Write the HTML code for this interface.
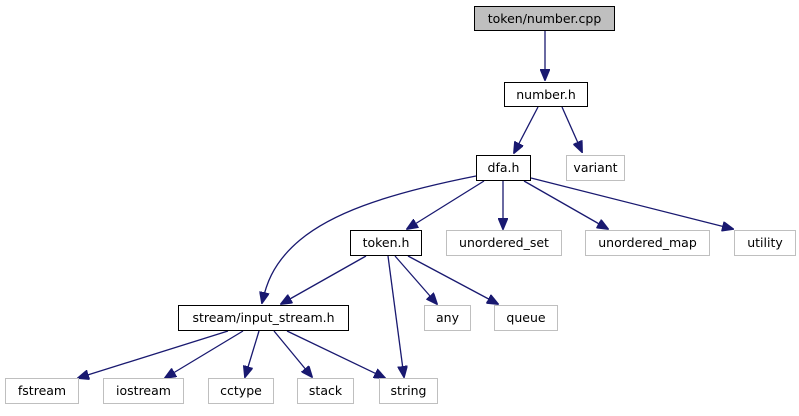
<!DOCTYPE html>
<html><head><style>
body{margin:0;background:#fff;width:799px;height:411px;overflow:hidden}
text{font-family:"DejaVu Sans","Liberation Sans",sans-serif;font-size:12.5px;fill:#000}
</style></head><body>
<svg width="799" height="411" viewBox="0 0 799 411" xmlns="http://www.w3.org/2000/svg">
<defs><marker id="a" markerWidth="12" markerHeight="10" refX="11" refY="5" orient="auto" markerUnits="userSpaceOnUse"><polygon points="0,0 12,5 0,10" fill="#191970" stroke="#191970"/></marker></defs>
<g fill="none" stroke="#191970" stroke-width="1.3" marker-end="url(#a)">
<line x1="545" y1="31" x2="545" y2="80"/>
<line x1="538" y1="107" x2="514" y2="153"/>
<line x1="562" y1="107" x2="582" y2="152"/>
<path d="M476,176 C380,195 330,215 300,240 C270,265 265,290 262,303"/>
<line x1="484" y1="181" x2="407" y2="229"/>
<line x1="503" y1="181" x2="503" y2="229"/>
<line x1="524" y1="181" x2="608" y2="229"/>
<line x1="531" y1="178" x2="733" y2="229"/>
<line x1="366" y1="256" x2="281" y2="304"/>
<line x1="388" y1="256" x2="404" y2="377"/>
<line x1="395" y1="256" x2="437" y2="304"/>
<line x1="408" y1="256" x2="498" y2="304"/>
<line x1="228" y1="331" x2="78" y2="378"/>
<line x1="243" y1="331" x2="165" y2="378"/>
<line x1="259" y1="331" x2="245" y2="377"/>
<line x1="274" y1="331" x2="312" y2="377"/>
<line x1="287" y1="331" x2="385" y2="378"/>
</g>
<g stroke-width="1">
<rect x="474.5" y="6.5" width="140" height="24" fill="#bfbfbf" stroke="#000"/>
<rect x="504.5" y="82.5" width="83" height="24" fill="#fff" stroke="#000"/>
<rect x="476.5" y="155.5" width="54" height="25" fill="#fff" stroke="#000"/>
<rect x="566.5" y="155.5" width="58" height="25" fill="#fff" stroke="#bfbfbf"/>
<rect x="350.5" y="230.5" width="71" height="25" fill="#fff" stroke="#000"/>
<rect x="446.5" y="230.5" width="115" height="25" fill="#fff" stroke="#bfbfbf"/>
<rect x="585.5" y="230.5" width="124" height="25" fill="#fff" stroke="#bfbfbf"/>
<rect x="734.5" y="230.5" width="61" height="25" fill="#fff" stroke="#bfbfbf"/>
<rect x="178.5" y="305.5" width="170" height="25" fill="#fff" stroke="#000"/>
<rect x="424.5" y="305.5" width="46" height="25" fill="#fff" stroke="#bfbfbf"/>
<rect x="494.5" y="305.5" width="63" height="25" fill="#fff" stroke="#bfbfbf"/>
<rect x="5.5" y="378.5" width="73" height="25" fill="#fff" stroke="#bfbfbf"/>
<rect x="103.5" y="378.5" width="80" height="25" fill="#fff" stroke="#bfbfbf"/>
<rect x="208.5" y="378.5" width="65" height="25" fill="#fff" stroke="#bfbfbf"/>
<rect x="297.5" y="378.5" width="56" height="25" fill="#fff" stroke="#bfbfbf"/>
<rect x="379.5" y="378.5" width="58" height="25" fill="#fff" stroke="#bfbfbf"/>
</g>
<g text-anchor="middle">
<text x="544.5" y="23">token/number.cpp</text>
<text x="546" y="99">number.h</text>
<text x="503.5" y="172">dfa.h</text>
<text x="595.5" y="172">variant</text>
<text x="386" y="247">token.h</text>
<text x="504" y="247">unordered_set</text>
<text x="647.5" y="247">unordered_map</text>
<text x="765" y="247">utility</text>
<text x="263.5" y="322">stream/input_stream.h</text>
<text x="447.5" y="322">any</text>
<text x="526" y="322">queue</text>
<text x="42" y="395">fstream</text>
<text x="143.5" y="395">iostream</text>
<text x="241" y="395">cctype</text>
<text x="325.5" y="395">stack</text>
<text x="408.5" y="395">string</text>
</g>
</svg>
</body></html>
